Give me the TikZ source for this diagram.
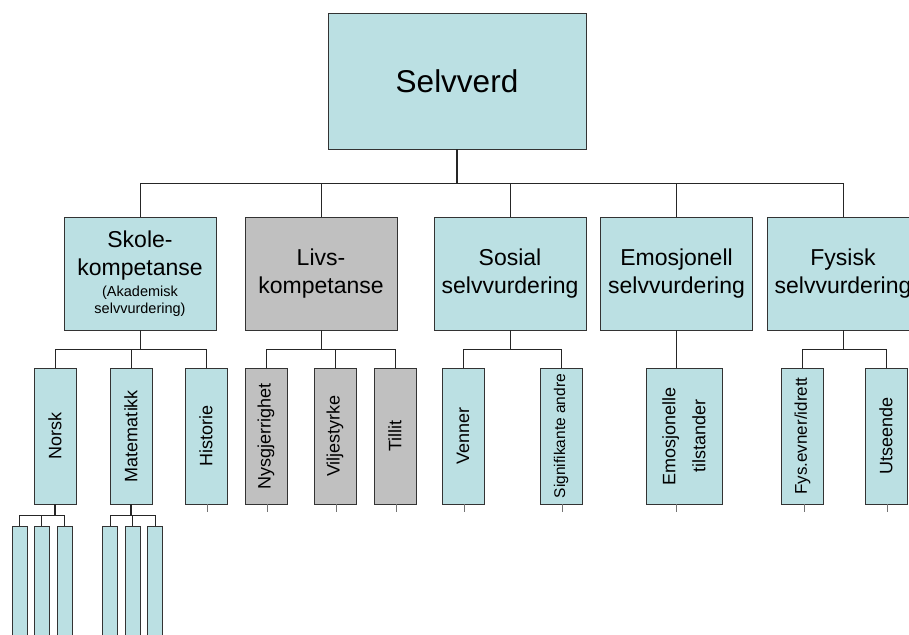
\documentclass[tikz,border=0pt]{standalone}
\usepackage{fontspec}
\setmainfont{Liberation Sans}
\definecolor{lb}{HTML}{BBE0E3}
\definecolor{gr}{HTML}{C0C0C0}
\begin{document}
\begin{tikzpicture}[x=1pt,y=-1pt,
 box/.style={draw=black!80, line width=0.8pt, fill=lb, inner sep=0pt, outer sep=0pt, align=center},
 gbox/.style={fill=gr},
 l2/.style={box, minimum width=152pt, minimum height=113pt, font=\fontsize{23}{28}\selectfont},
 l3/.style={box, rotate=90, minimum width=136pt, minimum height=42pt, font=\fontsize{18}{21}\selectfont},
 l4/.style={box, minimum width=15pt, minimum height=130pt, anchor=north},
 conn/.style={draw=black!85, line width=0.8pt},
 stub/.style={draw=black!55, line width=0.8pt}]
\useasboundingbox (0,0) rectangle (909,634);
\clip (0,0) rectangle (909,634);

% level 1
\node[box, minimum width=258pt, minimum height=136pt, font=\fontsize{31.5}{36}\selectfont] (sv) at (457,81) {Selvverd};

% level 2
\node[l2] (skole) at (140,273.5) {Skole-\\kompetanse\\[-6.5pt]{\fontsize{14.5}{16}\selectfont (Akademisk}\\[-11.5pt]{\fontsize{14.5}{16}\selectfont selvvurdering)}};
\node[l2, gbox] (livs) at (321,273.5) {Livs-\\kompetanse};
\node[l2] (sosial) at (510,273.5) {Sosial\\selvvurdering};
\node[l2] (emo) at (676.5,273.5) {Emosjonell\\selvvurdering};
\node[l2] (fys) at (843,273.5) {Fysisk\\selvvurdering};

% level 3
\node[l3] (norsk) at (55,436) {Norsk};
\node[l3] (mat) at (131,436) {Matematikk};
\node[l3] (hist) at (206,436) {Historie};
\node[l3, gbox] (nys) at (266,436) {Nysgjerrighet};
\node[l3, gbox] (vil) at (335,436) {Viljestyrke};
\node[l3, gbox] (til) at (395,436) {Tillit};
\node[l3] (ven) at (463,436) {Venner};
\node[l3, font=\fontsize{15.5}{18}\selectfont] (sig) at (561,436) {Signifikante andre};
\node[l3, minimum height=76pt, font=\fontsize{18}{30}\selectfont] (emot) at (684,436) {Emosjonelle\\tilstander};
\node[l3, font=\fontsize{17}{20}\selectfont] (fysev) at (802.5,436) {Fys.evner/idrett};
\node[l3] (uts) at (886,436) {Utseende};

% level 4
\node[l4] (n1) at (19.5,526) {};
\node[l4] (n2) at (41.5,526) {};
\node[l4] (n3) at (64.5,526) {};
\node[l4] (m1) at (110,526) {};
\node[l4] (m2) at (132.5,526) {};
\node[l4] (m3) at (155,526) {};

% buses
\coordinate (b1) at (0,183);
\coordinate (b2) at (0,349);
\coordinate (b3) at (0,515);

% connectors level 1 -> 2
\foreach \n in {skole,livs,sosial,emo,fys}
  \draw[conn] (sv.south) -- (sv.south |- b1) -| (\n.north);
\draw[conn, line width=1.6pt] (sv.south) -- (sv.south |- b1);

% level 2 -> 3
\foreach \n in {norsk,mat,hist}
  \draw[conn] (skole.south) -- (skole.south |- b2) -| (\n.east);
\foreach \n in {nys,vil,til}
  \draw[conn] (livs.south) -- (livs.south |- b2) -| (\n.east);
\foreach \n in {ven,sig}
  \draw[conn] (sosial.south) -- (sosial.south |- b2) -| (\n.east);
\draw[conn] (emo.south) -- (emo.south |- emot.east);
\foreach \n in {fysev,uts}
  \draw[conn] (fys.south) -- (fys.south |- b2) -| (\n.east);

% level 3 -> 4
\foreach \n in {n1,n2,n3}
  \draw[conn] (norsk.west) -- (norsk.west |- b3) -| (\n.north);
\foreach \n in {m1,m2,m3}
  \draw[conn] (mat.west) -- (mat.west |- b3) -| (\n.north);
\draw[conn, line width=1.4pt] (norsk.west) -- (norsk.west |- b3);
\draw[conn, line width=1.4pt] (mat.west) -- (mat.west |- b3);

% stubs
\foreach \n in {hist,nys,vil,til,ven,sig,fysev,uts} {
  \path (\n.west) ++(1.5,8) coordinate (\n-end);
  \draw[stub] (\n.west) ++(1.5,0) coordinate (\n-start) -- (\n-end);
}
\path (emot.west) ++(-7.5,8) coordinate (emot-end);
\draw[stub] (emot-end |- emot.west) -- (emot-end);
\end{tikzpicture}
\end{document}
